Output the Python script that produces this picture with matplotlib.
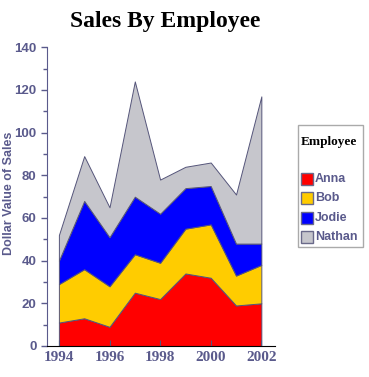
import matplotlib
matplotlib.use("Agg")
import matplotlib.pyplot as plt
from matplotlib.patches import Rectangle
from matplotlib.ticker import MultipleLocator

years = [1994, 1995, 1996, 1997, 1998, 1999, 2000, 2001, 2002]
anna = [11, 13, 9, 25, 22, 34, 32, 19, 20]
bob = [18, 23, 19, 18, 17, 21, 25, 14, 18]
jodie = [11, 32, 23, 27, 23, 19, 18, 15, 10]
nathan = [12, 21, 14, 54, 16, 10, 11, 23, 69]
names = ["Anna", "Bob", "Jodie", "Nathan"]
colors = ["#FF0000", "#FFCC00", "#0000FF", "#C6C6CC"]

W, H = 369, 377
txt = "#5A5A8C"
fig = plt.figure(figsize=(W/100, H/100), dpi=100)
ax = fig.add_axes([47/W, 1-346/H, (275-47)/W, (346-47.3)/H])

ax.stackplot(years, anna, bob, jodie, nathan, colors=colors,
             edgecolor="#55557A", linewidth=0.7)
ax.set_xlim(1993.53, 2002.54)
ax.set_ylim(0, 140)
ax.yaxis.set_major_locator(MultipleLocator(20))
ax.yaxis.set_minor_locator(MultipleLocator(10))
ax.set_xticks([1994, 1996, 1998, 2000, 2002])
for s in ["top", "right"]:
    ax.spines[s].set_visible(False)
ax.spines["left"].set_color(txt)
ax.spines["bottom"].set_color("black")
ax.tick_params(axis="y", which="both", direction="out", colors=txt, length=4, width=1)
ax.tick_params(axis="y", which="minor", length=3)
ax.tick_params(axis="x", direction="in", length=4, color="#55557A", labelcolor=txt)
for lab in ax.get_yticklabels():
    lab.set_fontfamily("Liberation Sans")
    lab.set_fontweight("bold")
    lab.set_fontsize(9.5)
for lab in ax.get_xticklabels():
    lab.set_fontfamily("Liberation Serif")
    lab.set_fontweight("bold")
    lab.set_fontsize(11)
ax.set_ylabel("Dollar Value of Sales", color=txt, fontfamily="Liberation Sans",
              fontweight="bold", fontsize=9)
ax.yaxis.set_label_coords((15-47)/228, (346-193.5)/298.7)

fig.text(165/W, 1-22/H, "Sales By Employee", ha="center", va="center",
         fontfamily="Liberation Serif", fontweight="bold", fontsize=17)

# legend drawn manually
fig.patches.append(Rectangle((298/W, 1-247/H), (363-298)/W, (247-125)/H,
                             transform=fig.transFigure, facecolor="white",
                             edgecolor="#AAAAAA", linewidth=1))
fig.text(301/W, 1-142/H, "Employee", ha="left", va="center",
         fontfamily="Liberation Serif", fontweight="bold", fontsize=9.5)
ys = [179, 198, 218, 237]
for n, c, y in zip(names, colors, ys):
    fig.patches.append(Rectangle((301/W, 1-(y+6)/H), 12/W, 12/H,
                                 transform=fig.transFigure, facecolor=c,
                                 edgecolor="#6A6A8A", linewidth=1))
    fig.text(315/W, 1-y/H, n, ha="left", va="center", color=txt,
             fontfamily="Liberation Sans", fontweight="bold", fontsize=9)

fig.savefig("out.png", dpi=100)
